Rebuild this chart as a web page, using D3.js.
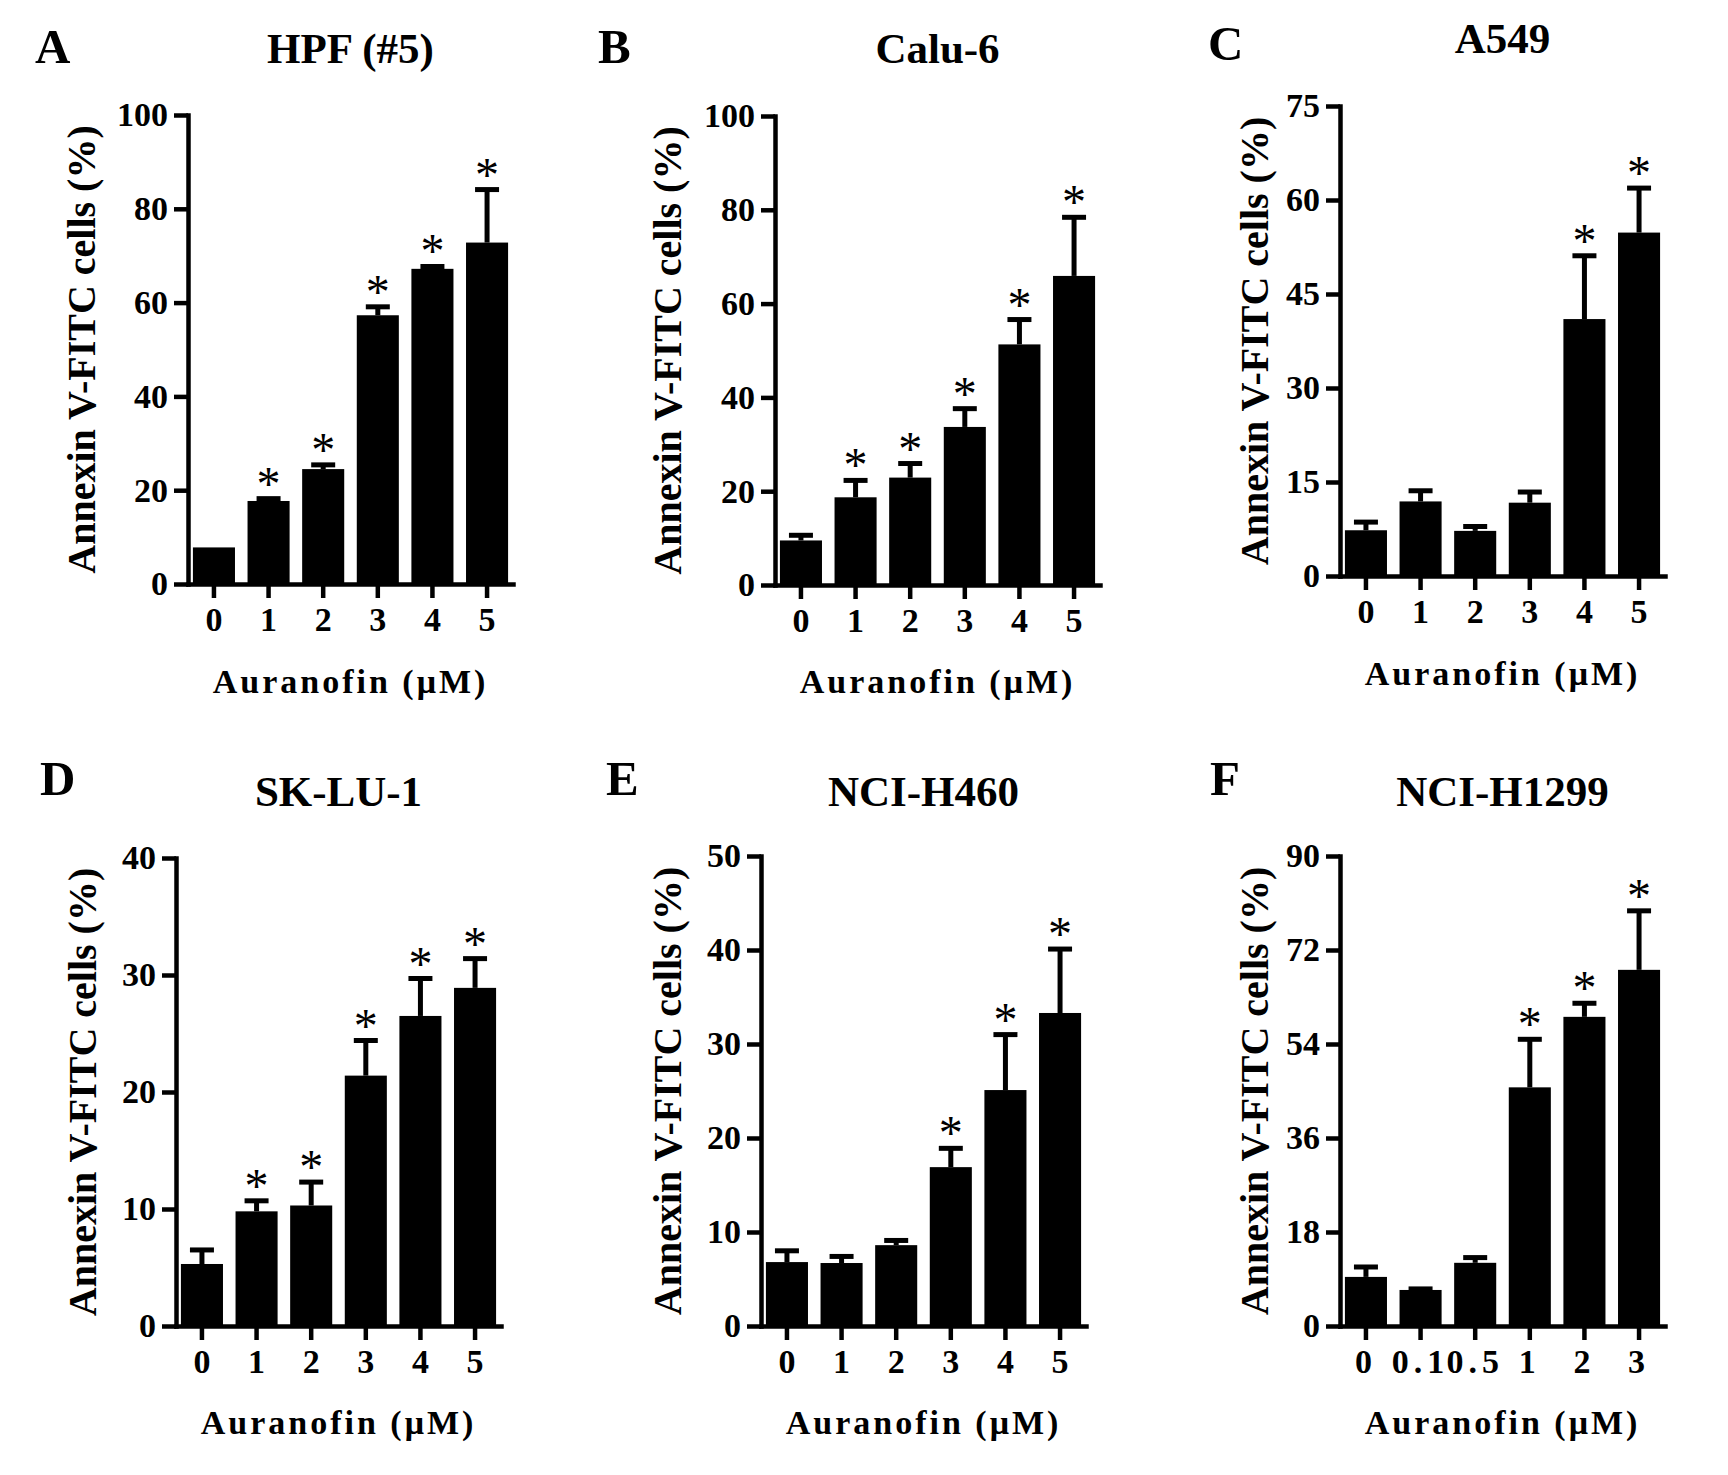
<!DOCTYPE html>
<html>
<head>
<meta charset="utf-8">
<script src="https://cdn.jsdelivr.net/npm/d3@7"></script>
<style>
  body { margin: 0; background: #fff; }
  text { font-family: "Liberation Serif", "Times New Roman", serif; font-weight: bold; fill: #000; }
</style>
</head>
<body>
<script>
// Canvas size
const w = 1728;
const h = 1475;

// Categories (Auranofin, µM)
const doses = ["0", "1", "2", "3", "4", "5"];
const dosesH1299 = ["0", "0.1", "0.5", "1", "2", "3"];

// Y tick values
const ticks100 = [0, 20, 40, 60, 80, 100];
const ticks75 = [0, 15, 30, 45, 60, 75];
const ticks40 = [0, 10, 20, 30, 40];
const ticks50 = [0, 10, 20, 30, 40, 50];
const ticks90 = [0, 18, 36, 54, 72, 90];

// Mean values, error (upper SD) and significance
const hpfMean = [7.8, 17.7, 24.5, 57.3, 67.2, 72.8];
const hpfErr = [0, 0.5, 0.9, 1.8, 0.5, 11.3];
const hpfSig = [0, 1, 1, 1, 1, 1];

const calu6Mean = [9.5, 18.7, 22.9, 33.7, 51.3, 65.9];
const calu6Err = [1.1, 3.6, 3.0, 3.9, 5.3, 12.5];
const calu6Sig = [0, 1, 1, 1, 1, 1];

const a549Mean = [7.3, 11.9, 7.2, 11.7, 41.0, 54.8];
const a549Err = [1.3, 1.7, 0.7, 1.7, 10.1, 7.1];
const a549Sig = [0, 0, 0, 0, 1, 1];

const sklu1Mean = [5.3, 9.8, 10.3, 21.4, 26.5, 28.9];
const sklu1Err = [1.2, 0.9, 2.0, 3.0, 3.2, 2.5];
const sklu1Sig = [0, 1, 1, 1, 1, 1];

const h460Mean = [6.8, 6.7, 8.6, 16.9, 25.1, 33.3];
const h460Err = [1.2, 0.7, 0.5, 2.0, 5.9, 6.8];
const h460Sig = [0, 0, 0, 1, 1, 1];

const h1299Mean = [9.4, 6.9, 12.1, 45.7, 59.2, 68.2];
const h1299Err = [1.9, 0.2, 1.0, 9.2, 2.6, 11.3];
const h1299Sig = [0, 0, 0, 1, 1, 1];

// Panel layout
const plotW = 325;
const panels = [
  { letter: "A", title: "HPF (#5)", cats: doses, mean: hpfMean, err: hpfErr, sig: hpfSig, ticks: ticks100,
    ax: 188, yTop: 115, y0: 584, letterX: 35, letterY: 63, titleY: 63, xLabelY: 693, yLabelX: 95 },
  { letter: "B", title: "Calu-6", cats: doses, mean: calu6Mean, err: calu6Err, sig: calu6Sig, ticks: ticks100,
    ax: 775, yTop: 116, y0: 585, letterX: 598, letterY: 63, titleY: 63, xLabelY: 693, yLabelX: 681 },
  { letter: "C", title: "A549", cats: doses, mean: a549Mean, err: a549Err, sig: a549Sig, ticks: ticks75,
    ax: 1340, yTop: 106, y0: 576, letterX: 1208, letterY: 60, titleY: 53, xLabelY: 685, yLabelX: 1268 },
  { letter: "D", title: "SK-LU-1", cats: doses, mean: sklu1Mean, err: sklu1Err, sig: sklu1Sig, ticks: ticks40,
    ax: 176, yTop: 858, y0: 1326, letterX: 40, letterY: 795, titleY: 806, xLabelY: 1434, yLabelX: 96 },
  { letter: "E", title: "NCI-H460", cats: doses, mean: h460Mean, err: h460Err, sig: h460Sig, ticks: ticks50,
    ax: 761, yTop: 856, y0: 1326, letterX: 606, letterY: 795, titleY: 806, xLabelY: 1434, yLabelX: 681 },
  { letter: "F", title: "NCI-H1299", cats: dosesH1299, mean: h1299Mean, err: h1299Err, sig: h1299Sig, ticks: ticks90,
    ax: 1340, yTop: 856, y0: 1326, letterX: 1210, letterY: 795, titleY: 806, xLabelY: 1434, yLabelX: 1268, spaced: true }
];

const svg = d3.select('body')
  .append('svg')
  .attr('width', w)
  .attr('height', h);

panels.forEach((p) => {
  const g = svg.append('g');

  const yScale = d3.scaleLinear()
    .domain([0, d3.max(p.ticks)])
    .range([p.y0, p.yTop]);

  const xScale = d3.scaleBand()
    .domain(p.cats)
    .range([p.ax, p.ax + plotW])
    .paddingInner(0.23)
    .paddingOuter(0.09);

  const bw = xScale.bandwidth();

  // one record per bar
  const rows = p.cats.map((c, i) => ({ cat: c, mean: p.mean[i], err: p.err[i], sig: p.sig[i] }));
  const cx = (d) => xScale(d.cat) + bw / 2;

  // bars
  g.selectAll('rect.bar')
    .data(rows)
    .join('rect')
    .attr('class', 'bar')
    .attr('x', (d) => xScale(d.cat))
    .attr('y', (d) => yScale(d.mean))
    .attr('width', bw)
    .attr('height', (d) => p.y0 - yScale(d.mean))
    .attr('fill', '#000');

  // error bars (upper only)
  const withErr = rows.filter((d) => d.err > 0);
  g.selectAll('line.err')
    .data(withErr)
    .join('line')
    .attr('class', 'err')
    .attr('x1', cx).attr('x2', cx)
    .attr('y1', (d) => yScale(d.mean))
    .attr('y2', (d) => yScale(d.mean + d.err))
    .attr('stroke', '#000').attr('stroke-width', 5);

  g.selectAll('line.cap')
    .data(withErr)
    .join('line')
    .attr('class', 'cap')
    .attr('x1', (d) => cx(d) - 12).attr('x2', (d) => cx(d) + 12)
    .attr('y1', (d) => yScale(d.mean + d.err))
    .attr('y2', (d) => yScale(d.mean + d.err))
    .attr('stroke', '#000').attr('stroke-width', 5);

  // significance stars
  g.selectAll('text.star')
    .data(rows.filter((d) => d.sig))
    .join('text')
    .attr('class', 'star')
    .attr('x', cx)
    .attr('y', (d) => yScale(d.mean + d.err) + 1)
    .attr('text-anchor', 'middle')
    .style('font-size', '48px')
    .style('font-weight', 'normal')
    .text('*');

  // axes
  const yAxis = d3.axisLeft(yScale)
    .tickValues(p.ticks)
    .tickSize(14)
    .tickSizeOuter(0)
    .tickPadding(6);

  const xAxis = d3.axisBottom(xScale)
    .tickSize(14)
    .tickSizeOuter(0)
    .tickPadding(9);

  const gy = g.append('g')
    .attr('transform', 'translate(' + p.ax + ',0)')
    .call(yAxis);

  const gx = g.append('g')
    .attr('transform', 'translate(0,' + p.y0 + ')')
    .call(xAxis);

  [gx, gy].forEach((a) => {
    a.selectAll('path.domain').attr('stroke-width', 4.5).attr('stroke-linecap', 'square');
    a.selectAll('.tick line').attr('stroke-width', 4.5);
    a.selectAll('.tick text')
      .style('font-family', '"Liberation Serif", "Times New Roman", serif')
      .style('font-weight', 'bold')
      .style('font-size', '34px')
      .attr('fill', '#000');
  });
  if (p.spaced) gx.selectAll('.tick text').style('letter-spacing', '5px');

  // panel letter and title
  g.append('text')
    .attr('x', p.letterX)
    .attr('y', p.letterY)
    .style('font-size', '49px')
    .text(p.letter);

  g.append('text')
    .attr('x', p.ax + plotW / 2)
    .attr('y', p.titleY)
    .attr('text-anchor', 'middle')
    .style('font-size', '43px')
    .text(p.title);

  // axis titles
  g.append('text')
    .attr('x', p.ax + plotW / 2)
    .attr('y', p.xLabelY)
    .attr('text-anchor', 'middle')
    .style('font-size', '34px')
    .style('letter-spacing', '3px')
    .text('Auranofin (μM)');

  g.append('text')
    .attr('transform', 'translate(' + p.yLabelX + ',' + ((p.yTop + p.y0) / 2) + ') rotate(-90)')
    .attr('text-anchor', 'middle')
    .style('font-size', '40px')
    .text('Annexin V-FITC cells (%)');
});
</script>
</body>
</html>
